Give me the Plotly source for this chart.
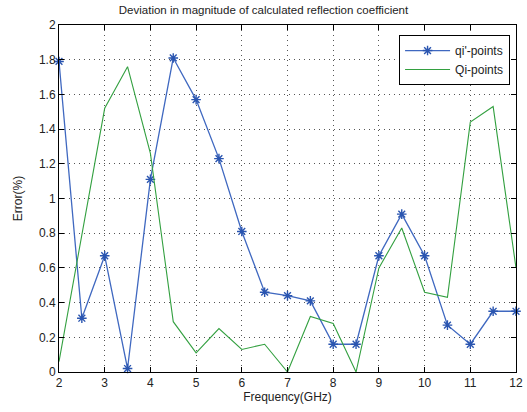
import plotly.graph_objects as go

freq = [2, 2.5, 3, 3.5, 4, 4.5, 5, 5.5, 6, 6.5, 7, 7.5, 8, 8.5, 9, 9.5, 10, 10.5, 11, 11.5, 12]
qi_prime = [1.79, 0.31, 0.67, 0.02, 1.11, 1.81, 1.57, 1.23, 0.81, 0.46, 0.44, 0.41, 0.16, 0.16, 0.67, 0.91, 0.67, 0.27, 0.16, 0.35, 0.35]
Qi = [0.06, 0.78, 1.52, 1.76, 1.26, 0.29, 0.11, 0.25, 0.13, 0.16, 0.0, 0.32, 0.28, 0.0, 0.6, 0.83, 0.46, 0.43, 1.44, 1.53, 0.6]

blue = "#3f68c0"
green = "#33a040"
font = "Liberation Sans, Arial, sans-serif"

fig = go.Figure()
fig.add_trace(go.Scatter(
    x=freq, y=qi_prime, name="qi'-points", mode="lines+markers",
    line=dict(color=blue, width=1.3),
    marker=dict(symbol="asterisk-open", size=8, color="#2a55b0",
                line=dict(color="#2a55b0", width=1.4)),
    cliponaxis=False,
))
fig.add_trace(go.Scatter(
    x=freq, y=Qi, name="Qi-points", mode="lines",
    line=dict(color=green, width=1.1),
))

axis_common = dict(
    showline=True, linecolor="black", linewidth=1, mirror="ticks",
    ticks="inside", ticklen=5, tickcolor="black", automargin=False,
    showgrid=True, gridcolor="#555555", griddash="1px,4px", gridwidth=1,
    zeroline=False, tickfont=dict(size=12, color="#222", family=font),
)

fig.update_layout(
    width=527, height=412,
    margin=dict(l=59, r=11, t=25, b=40),
    paper_bgcolor="white", plot_bgcolor="white",
    title=dict(text="Deviation in magnitude of calculated reflection coefficient",
               x=0.5, xanchor="center", y=0.976, yanchor="middle",
               font=dict(size=11.5, color="#222", family=font)),
    xaxis=dict(range=[2, 12], dtick=1, tick0=2,
               title=dict(text="Frequency(GHz)", standoff=2,
                          font=dict(size=12, color="#222", family=font)),
               **axis_common),
    yaxis=dict(range=[0, 2], dtick=0.2, tick0=0,
               title=dict(text="Error(%)", standoff=13,
                          font=dict(size=12, color="#222", family=font)),
               **axis_common),
    legend=dict(x=0.987, y=0.971, xanchor="right", yanchor="top",
                bgcolor="white", bordercolor="black", borderwidth=1,
                font=dict(size=12, color="#222", family=font),
                tracegroupgap=0, itemwidth=45),
    showlegend=True,
)

fig.write_html("out.html", config={"displayModeBar": False},
               post_script="document.body.style.margin='0';")
